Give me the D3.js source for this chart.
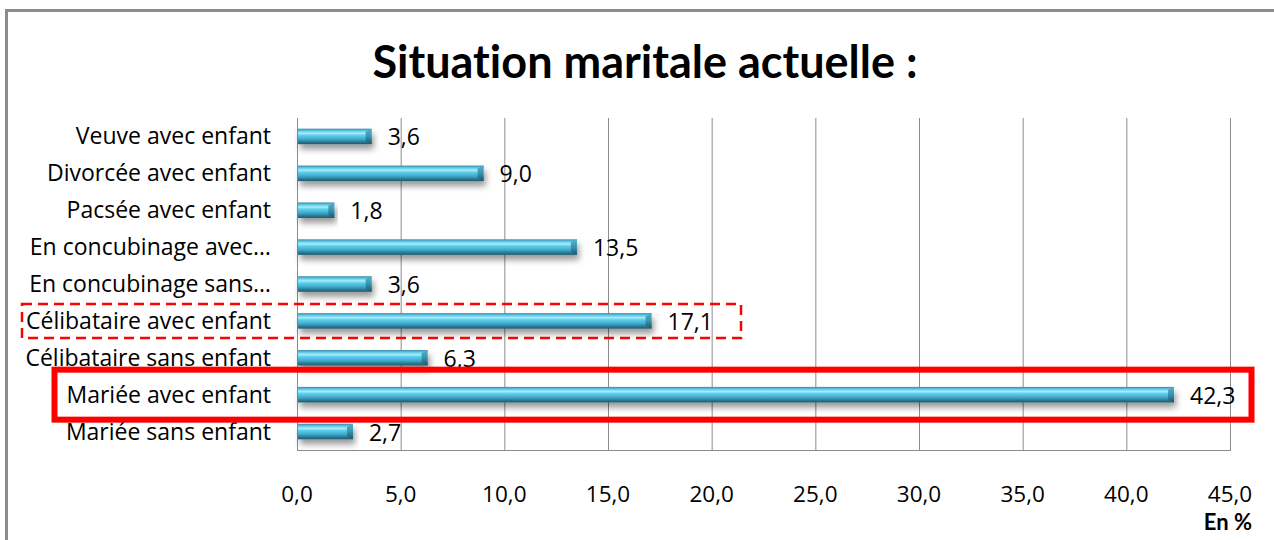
<!DOCTYPE html>
<html>
<head>
<meta charset="utf-8">
<script src="https://cdn.jsdelivr.net/npm/d3@7"></script>
<style>
  body { margin: 0; background: #fff; }
  text { font-family: "Open Sans", Lato, sans-serif; font-variant-ligatures: none; }
</style>
</head>
<body>
<script>
'use strict';

// data
let categories = ['Veuve avec enfant', 'Divorcée avec enfant', 'Pacsée avec enfant',
    'En concubinage avec…', 'En concubinage sans…', 'Célibataire avec enfant',
    'Célibataire sans enfant', 'Mariée avec enfant', 'Mariée sans enfant'];
let values = [3.6, 9.0, 1.8, 13.5, 3.6, 17.1, 6.3, 42.3, 2.7];
let ticks = [0, 5, 10, 15, 20, 25, 30, 35, 40, 45];

let fmt = (v) => v.toFixed(1).replace('.', ',');

let svg = d3.select('body').append('svg')
    .attr('width', 1274)
    .attr('height', 540);

let defs = svg.append('defs');
let grad = defs.append('linearGradient')
    .attr('id', 'barGrad')
    .attr('x1', 0).attr('y1', 0).attr('x2', 0).attr('y2', 1);
[['0%', '#3a86a0'], ['12%', '#55c3e2'], ['30%', '#a8eefc'], ['42%', '#5fd0ee'],
 ['68%', '#3fa9c9'], ['86%', '#2a7a95'], ['100%', '#1d586d']]
    .forEach((s) => grad.append('stop').attr('offset', s[0]).attr('stop-color', s[1]));

let capGrad = defs.append('linearGradient')
    .attr('id', 'capGrad')
    .attr('x1', 0).attr('y1', 0).attr('x2', 0).attr('y2', 1);
[['0%', '#4fb2cf'], ['50%', '#3a93ae'], ['100%', '#1c556a']]
    .forEach((s) => capGrad.append('stop').attr('offset', s[0]).attr('stop-color', s[1]));

let shadow = defs.append('filter').attr('id', 'shadow')
    .attr('x', '-5%').attr('y', '-50%').attr('width', '115%').attr('height', '240%');
shadow.append('feDropShadow')
    .attr('dx', 2).attr('dy', 5).attr('stdDeviation', 3)
    .attr('flood-color', '#000').attr('flood-opacity', 0.4);

// outer frame
svg.append('rect')
    .attr('x', 6.5).attr('y', 10.5)
    .attr('width', 1320).attr('height', 600)
    .attr('fill', 'none')
    .attr('stroke', '#8c8c8c')
    .attr('stroke-width', 3);

// title
svg.append('text')
    .attr('x', 645)
    .attr('y', 78)
    .attr('text-anchor', 'middle')
    .style('font-family', 'Lato, sans-serif')
    .style('font-size', '45px')
    .style('font-weight', 'bold')
    .text('Situation maritale actuelle :');

let xScale = d3.scaleLinear().domain([0, 45]).range([297, 1230]);
let yScale = d3.scaleBand().domain(categories).range([118, 450]).paddingInner(0.58).paddingOuter(0.29);

// grid
svg.append('g').selectAll('line')
    .data(ticks.slice(1))
    .enter().append('line')
    .attr('x1', (d) => xScale(d) + 0.5)
    .attr('x2', (d) => xScale(d) + 0.5)
    .attr('y1', 118)
    .attr('y2', 450)
    .attr('stroke', '#8c8c8c')
    .attr('stroke-width', 1);

// axes lines
svg.append('line')
    .attr('x1', xScale(0) + 0.5).attr('x2', xScale(0) + 0.5)
    .attr('y1', 118).attr('y2', 450.5)
    .attr('stroke', '#8c8c8c');
svg.append('line')
    .attr('x1', xScale(0)).attr('x2', xScale(45) + 1)
    .attr('y1', 450.5).attr('y2', 450.5)
    .attr('stroke', '#8c8c8c');

// x tick labels
svg.append('g').selectAll('text')
    .data(ticks)
    .enter().append('text')
    .attr('x', (d) => xScale(d))
    .attr('y', 502)
    .attr('text-anchor', 'middle')
    .style('font-size', '22.5px')
    .text(fmt);

svg.append('text')
    .attr('x', 1252)
    .attr('y', 530)
    .attr('text-anchor', 'end')
    .style('font-family', 'Lato, sans-serif')
    .style('font-size', '22px')
    .style('font-weight', 'bold')
    .text('En %');

// category labels
svg.append('g').selectAll('text')
    .data(categories)
    .enter().append('text')
    .attr('x', 271)
    .attr('y', (d) => yScale(d) + yScale.bandwidth() / 2 + 8)
    .attr('text-anchor', 'end')
    .style('font-size', '23px')
    .text((d) => d);

// bars
let rows = categories.map((c, i) => ({ cat: c, val: values[i] }));
let bh = yScale.bandwidth();
let bars = svg.append('g').selectAll('g')
    .data(rows)
    .enter().append('g')
    .attr('filter', 'url(#shadow)');

bars.append('rect')
    .attr('x', xScale(0) + 1)
    .attr('y', (d) => yScale(d.cat))
    .attr('width', (d) => xScale(d.val) - xScale(0) - 1)
    .attr('height', bh)
    .attr('fill', 'url(#barGrad)');

bars.append('polygon')
    .attr('points', (d) => {
        let x = xScale(d.val), y = yScale(d.cat);
        return [[x - 6, y + 3], [x, y], [x, y + bh], [x - 6, y + bh - 3]].join(' ');
    })
    .attr('fill', 'url(#capGrad)');

// value labels
svg.append('g').selectAll('text')
    .data(rows)
    .enter().append('text')
    .attr('x', (d) => xScale(d.val) + 16)
    .attr('y', (d) => yScale(d.cat) + bh / 2 + 9)
    .style('font-size', '23px')
    .text((d) => fmt(d.val));

// highlight boxes
let dashedRow = 'Célibataire avec enfant';
let solidRow = 'Mariée avec enfant';
let cy1 = yScale(dashedRow) + bh / 2;
svg.append('rect')
    .attr('x', 22).attr('y', cy1 - 17)
    .attr('width', 719).attr('height', 34)
    .attr('fill', 'none')
    .attr('stroke', '#ff0000')
    .attr('stroke-width', 2.5)
    .attr('stroke-dasharray', '10,6');

let cy2 = yScale(solidRow) + bh / 2;
svg.append('rect')
    .attr('x', 54.5).attr('y', cy2 - 25)
    .attr('width', 1197).attr('height', 50)
    .attr('fill', 'none')
    .attr('stroke', '#ff0000')
    .attr('stroke-width', 6);
</script>
</body>
</html>
